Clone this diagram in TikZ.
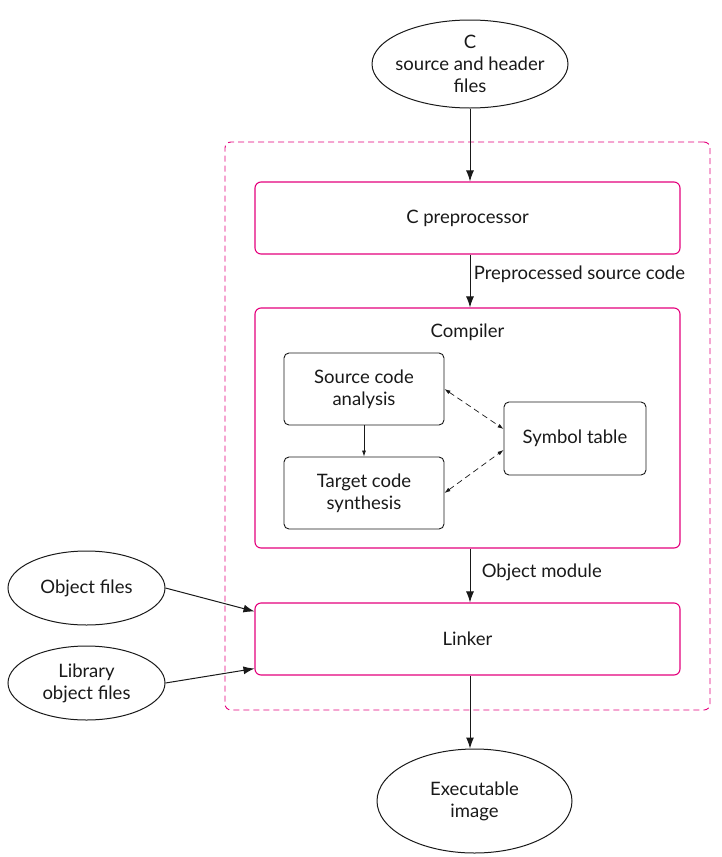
\documentclass[tikz,border=0pt]{standalone}
\usepackage{fontspec}
\setmainfont{Lato}
\usetikzlibrary{positioning, arrows.meta, shapes.geometric}
\definecolor{magentab}{RGB}{228,0,124}

\begin{document}
\begin{tikzpicture}[x=1pt,y=-1pt]
\tikzstyle{every node}=[font=\fontsize{18.5}{22}\selectfont, text=black!90]
\tikzstyle{ell}=[ellipse, draw=black!90, line width=1pt, align=center, inner sep=0pt]
\tikzstyle{pbox}=[rectangle, rounded corners=6pt, draw=magentab, line width=1.1pt, minimum width=425pt, minimum height=72pt]
\tikzstyle{bbox}=[rectangle, rounded corners=5pt, draw=black!90, line width=0.9pt, minimum width=160pt, minimum height=72pt, align=center]
\tikzstyle{connect}=[-{Latex[length=11pt,width=8pt]}, line width=1pt, black!90]
\tikzstyle{thinconnect}=[-{Latex[length=6pt,width=4pt]}, line width=0.7pt, black!90]
\tikzstyle{dashlink}=[{Latex[length=6pt,width=4pt]}-{Latex[length=6pt,width=4pt]}, line width=0.7pt, dash pattern=on 6pt off 4pt, black!90]
\useasboundingbox (0,0) rectangle (722,857);
% 1. Nodes
%%%%%%%%%%
\node[rectangle, rounded corners=6pt, draw=magentab, line width=0.9pt, dash pattern=on 6pt off 4pt, minimum width=485pt, minimum height=568pt] (frame) at (467.5,426) {};

\node[ell, inner xsep=-8pt, inner ysep=-5pt, minimum width=196pt, minimum height=88pt] (src) at (470,64) {C\\source and header\\files};
\node[pbox] (pre) at (467.5,218) {C preprocessor};
\node[pbox, minimum height=240pt] (comp) at (467.5,428) {};
\node (complabel) [below=13pt of comp.north] {Compiler};

\node[bbox] (sca) at (364,389) {Source code\\analysis};
\node[bbox] (tcs) at (364,493) {Target code\\synthesis};
\node[bbox, minimum width=142pt, minimum height=73pt] (sym) at (575,438.5) {Symbol table};

\node[pbox] (link) at (467.5,639) {Linker};
\node[ell, minimum width=157pt, minimum height=74pt] (obj) at (86.5,588) {Object files};
\node[ell, minimum width=157pt, minimum height=74pt] (lib) at (86.5,683) {Library\\object files};
\node[ell, minimum width=195pt, minimum height=104pt] (exe) at (474.5,801) {Executable\\image};

% 2. Arrows
%%%%%%%%%%%
\path (src)             edge [connect] (src |- pre.north)
      (pre.south -| src) edge [connect] node[right, pos=0.38] {Preprocessed source code} (comp.north -| src)
      (comp.south -| src) edge [connect] node[right, pos=0.45, xshift=8pt] {Object module} (link.north -| src)
      (link.south -| src) edge [connect] (exe.north -| src)
      (obj.east)        edge [connect] ([yshift=-9pt]link.north west)
      (lib.east)        edge [connect] ([yshift=7pt]link.south west)
      (sca)             edge [thinconnect] (tcs)
      (sca.east)        edge [dashlink] ([yshift=9.5pt]sym.west)
      (tcs.east)        edge [dashlink] ([yshift=-11.5pt]sym.west);

\end{tikzpicture}
\end{document}
